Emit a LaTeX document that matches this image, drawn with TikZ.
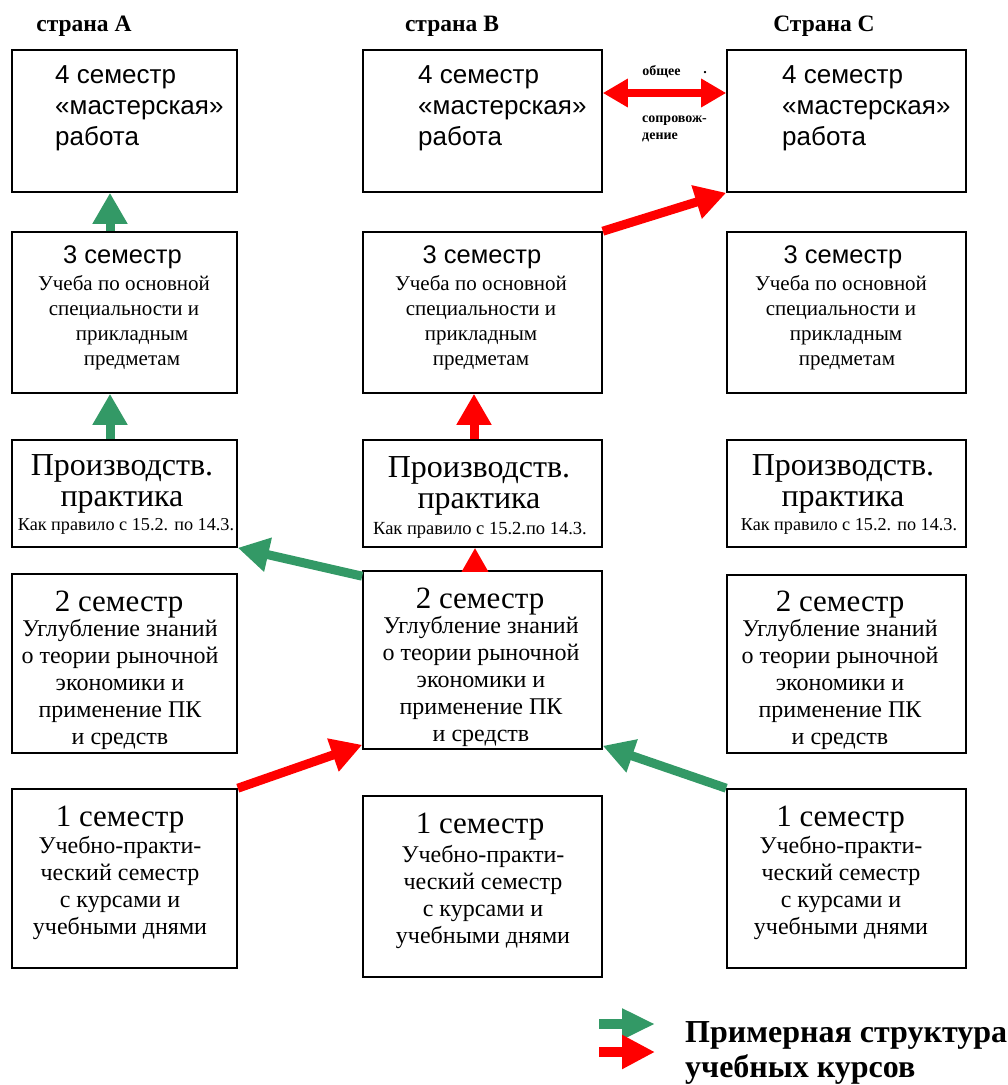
\documentclass[tikz,border=0pt]{standalone}
\usepackage{fontspec}
\setmainfont{Liberation Serif}
\setsansfont{Liberation Sans}
\usetikzlibrary{arrows.meta}
\definecolor{arrgreen}{RGB}{51,153,102}
\definecolor{arrred}{RGB}{255,0,0}
\newcommand{\fs}[2]{\fontsize{#1}{#2}\selectfont}
\begin{document}
\begin{tikzpicture}[x=1pt,y=-1pt,
    box/.style={draw,line width=1.6pt,inner sep=0pt},
    colA/.style={box,minimum width=225pt},
    colB/.style={box,minimum width=239pt},
    txt/.style={inner sep=0pt,align=center},
    garrow/.style={arrgreen,line width=9pt,-{Triangle[length=31pt,width=33pt]}},
    rarrow/.style={arrred,line width=9pt,-{Triangle[length=31pt,width=33pt]}},
    darrow/.style={arrred,line width=7.5pt,{Triangle[length=25pt,width=27pt]}-{Triangle[length=25pt,width=27pt]}}]
    \useasboundingbox (0,0) rectangle (1008,1085);
    %% Titles
    \node[txt,font=\bfseries\fs{23.5}{24}] (tA) at (84,26) {страна A};
    \node[txt,font=\bfseries\fs{23.5}{24}] (tB) at (452,26) {страна B};
    \node[txt,font=\bfseries\fs{23.5}{24}] (tC) at (824,26) {Страна C};
    %% Boxes
    \node[colA,minimum height=142pt] (a4) at (124.5,121) {};
    \node[colB,minimum height=142pt] (b4) at (482.5,121) {};
    \node[colB,minimum height=142pt] (c4) at (846.5,121) {};
    \node[colA,minimum height=161pt] (a3) at (124.5,312.5) {};
    \node[colB,minimum height=161pt] (b3) at (482.5,312.5) {};
    \node[colB,minimum height=161pt] (c3) at (846.5,312.5) {};
    \node[colA,minimum height=107pt] (ap) at (124.5,493.5) {};
    \node[colB,minimum height=107pt] (bp) at (482.5,493.5) {};
    \node[colB,minimum height=107pt] (cp) at (846.5,493.5) {};
    \node[colA,minimum height=179pt] (a2) at (124.5,663.5) {};
    \node[colB,minimum height=178pt] (b2) at (482.5,660) {};
    \node[colB,minimum height=178pt] (c2) at (846.5,664) {};
    \node[colA,minimum height=179pt] (a1) at (124.5,878.5) {};
    \node[colB,minimum height=181pt] (b1) at (482.5,886.5) {};
    \node[colB,minimum height=179pt] (c1) at (846.5,878.5) {};
    %% Texts
    \node[txt,align=left,anchor=west,font=\sffamily\fs{26}{31}] (a4t) at (55,108) {4 семестр\\«мастерская»\\работа};
    \node[txt,align=left,anchor=west,font=\sffamily\fs{26}{31}] (b4t) at (418,108) {4 семестр\\«мастерская»\\работа};
    \node[txt,align=left,anchor=west,font=\sffamily\fs{26}{31}] (c4t) at (782,108) {4 семестр\\«мастерская»\\работа};
    \node[txt,font=\sffamily\fs{25.5}{29}] (a3h) at (122.5,257) {3 семестр};
    \node[txt,font=\sffamily\fs{25.5}{29}] (b3h) at (482,257) {3 семестр};
    \node[txt,font=\sffamily\fs{25.5}{29}] (c3h) at (843,257) {3 семестр};
    \node[txt,font=\fs{21}{25}] (a3b) at (124,322.5) {Учеба по основной\\специальности и\\\hspace*{16pt}прикладным\\\hspace*{16pt}предметам};
    \node[txt,font=\fs{21}{25}] (b3b) at (481,323) {Учеба по основной\\специальности и\\прикладным\\предметам};
    \node[txt,font=\fs{21}{25}] (c3b) at (841,322.5) {Учеба по основной\\специальности и\\\hspace*{10pt}прикладным\\\hspace*{12pt}предметам};
    \node[txt,font=\fs{32}{31}] (apt) at (122,484) {Производств.\\практика};
    \node[txt,font=\fs{32}{31}] (bpt) at (479,486) {Производств.\\практика};
    \node[txt,font=\fs{32}{31}] (cpt) at (843,484) {Производств.\\практика};
    \node[txt,font=\fs{18.2}{20}] (apn) at (126,526) {Как правило с 15.2. по 14.3.};
    \node[txt,font=\fs{18.5}{20}] (bpn) at (480,530) {Как правило с 15.2.по 14.3.};
    \node[txt,font=\fs{18.2}{20}] (cpn) at (849,526) {Как правило с 15.2. по 14.3.};
    \node[txt,font=\fs{31}{30}] (a2h) at (119,605) {2 семестр};
    \node[txt,font=\fs{31}{30}] (b2h) at (480,602) {2 семестр};
    \node[txt,font=\fs{31}{30}] (c2h) at (840,605) {2 семестр};
    \node[txt,font=\fs{24}{27}] (a2b) at (120,684.5) {Углубление знаний\\о теории рыночной\\экономики и\\применение ПК\\и средств};
    \node[txt,font=\fs{24}{27}] (b2b) at (481,681) {Углубление знаний\\о теории рыночной\\экономики и\\применение ПК\\и средств};
    \node[txt,font=\fs{24}{27}] (c2b) at (840,684.5) {Углубление знаний\\о теории рыночной\\экономики и\\применение ПК\\и средств};
    \node[txt,font=\fs{31}{30}] (a1h) at (120,820) {1 семестр};
    \node[txt,font=\fs{31}{30}] (b1h) at (480,827) {1 семестр};
    \node[txt,font=\fs{31}{30}] (c1h) at (840.5,820) {1 семестр};
    \node[txt,font=\fs{24}{27}] (a1b) at (120,887.5) {Учебно-практи-\\ческий семестр\\с курсами и\\учебными днями};
    \node[txt,font=\fs{24}{27}] (b1b) at (483,897) {Учебно-практи-\\ческий семестр\\с курсами и\\учебными днями};
    \node[txt,font=\fs{24}{27}] (c1b) at (841,888) {Учебно-практи-\\ческий семестр\\с курсами и\\учебными днями};
    %% Arrows
    \draw[garrow] ([xshift=-14.5pt]a3.north) -- ([xshift=-14.5pt]a4.south);
    \draw[garrow] ([xshift=-14.5pt]ap.north) -- ([xshift=-14.5pt]a3.south);
    \draw[rarrow] ([xshift=-8.5pt]bp.north) -- ([xshift=-8.5pt]b3.south);
    \draw[arrred,line width=9pt,-{Triangle[length=24pt,width=25pt]}] ([xshift=-7.5pt]b2.north) -- ([xshift=-7.5pt]bp.south);
    \draw[rarrow] (b3.north east) -- (c4.south west);
    \draw[garrow] ([yshift=-6pt]b2.north west) -- (ap.south east);
    \draw[rarrow] (a1.north east) -- ([yshift=5pt]b2.south west);
    \draw[garrow] (c1.north west) -- ([yshift=4pt]b2.south east);
    \draw[darrow] ([yshift=28pt]b4.east) -- ([yshift=28pt]c4.west);
    \node[txt,font=\bfseries\fs{14}{17}] (lb1) at (661.5,72) {общее};
    \node[txt,font=\bfseries\fs{14}{17}] (lb2) at (705,73) {.};
    \node[txt,align=left,anchor=west,font=\bfseries\fs{14}{17}] (lb3) at (642,128.5) {сопровож-\\дение};
    %% Legend
    \coordinate (lg1) at (599,1024);
    \coordinate (lg2) at (655,1024);
    \coordinate (lr1) at (599,1052);
    \coordinate (lr2) at (655,1052);
    \draw[arrgreen,line width=10pt,-{Triangle[length=33pt,width=29pt]}] (lg1) -- (lg2);
    \draw[arrred,line width=10pt,-{Triangle[length=33pt,width=32pt]}] (lr1) -- (lr2);
    \node[txt,align=left,anchor=west,font=\bfseries\fs{32}{35}] (lgt) at (685,1053) {Примерная структура\\учебных курсов};
\end{tikzpicture}
\end{document}
